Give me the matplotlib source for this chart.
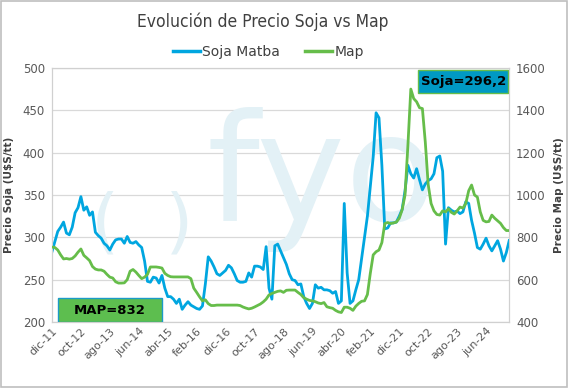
import matplotlib.pyplot as plt
from matplotlib.patches import Rectangle

# monthly prices, dic-11 .. feb-25
soja = [283, 295, 307, 312, 318, 305, 303, 312, 329, 335,
        348, 332, 336, 326, 330, 306, 302, 299, 293, 290,
        285, 292, 297, 298, 298, 293, 301, 294, 293, 295,
        291, 288, 272, 248, 247, 253, 252, 246, 255, 240,
        230, 230, 227, 222, 227, 215, 220, 224, 220, 218,
        216, 215, 219, 245, 277, 272, 265, 257, 255, 258,
        261, 267, 264, 257, 249, 247, 247, 248, 258, 253,
        266, 266, 265, 262, 289, 240, 227, 290, 292, 284,
        276, 268, 257, 250, 249, 244, 245, 230, 222, 216,
        222, 244, 240, 241, 238, 238, 237, 234, 236, 222,
        225, 340, 258, 222, 225, 238, 250, 275, 300, 325,
        360, 395, 447, 441, 385, 310, 311, 317, 317, 318,
        325, 333, 355, 385, 375, 370, 381, 368, 356, 363,
        367, 369, 375, 394, 396, 378, 292, 335, 332, 330,
        331, 328, 330, 342, 340, 320, 305, 288, 286, 292,
        299, 290, 284, 290, 296, 286, 272, 282, 296.2]

map_ = [754, 752, 740, 717, 698, 700, 697, 700, 712, 730,
        745, 715, 703, 690, 662, 650, 646, 646, 640, 625,
        612, 608, 590, 584, 584, 585, 600, 640, 648, 636,
        620, 605, 612, 625, 660, 660, 660, 658, 655, 630,
        620, 614, 613, 613, 613, 613, 613, 613, 605, 560,
        540, 519, 500, 505, 487, 478, 478, 480, 480, 480,
        480, 480, 480, 480, 480, 478, 471, 466, 462, 465,
        471, 478, 485, 495, 508, 528, 535, 540, 545, 547,
        540, 550, 551, 551, 551, 540, 530, 515, 508, 502,
        500, 496, 490, 487, 492, 472, 468, 465, 455, 448,
        445, 470, 470, 465, 455, 475, 488, 498, 500, 530,
        630, 717, 732, 740, 775, 865, 870, 865, 868, 872,
        890, 930, 1000, 1236, 1500, 1455, 1440, 1412, 1408, 1250,
        1050, 960, 925, 908, 905, 925, 920, 935, 918, 910,
        925, 943, 938, 960, 1020, 1047, 1000, 990, 920, 880,
        873, 875, 905, 890, 878, 866, 846, 832, 832]

tick_labels = ["dic-11", "oct-12", "ago-13", "jun-14", "abr-15", "feb-16",
               "dic-16", "oct-17", "ago-18", "jun-19", "abr-20", "feb-21",
               "dic-21", "oct-22", "ago-23", "jun-24"]

blue = "#00A6E0"
green = "#66BD4A"
grey_txt = "#595959"

fig = plt.figure(figsize=(5.68, 3.88), dpi=100)
fig.patches.append(Rectangle((0.002, 0.003), 0.996, 0.994, transform=fig.transFigure,
                             fill=False, edgecolor="#BFBFBF", linewidth=1.2))
ax = fig.add_axes([0.0915, 0.170, 0.805, 0.655])
ax2 = ax.twinx()

x = list(range(len(soja)))
ax.plot(x, soja, color=blue, linewidth=2.0, zorder=3)
ax2.plot(x, map_, color=green, linewidth=2.0, zorder=3)

ax.set_xlim(0, len(soja) - 1)
ax.set_ylim(200, 500)
ax2.set_ylim(400, 1600)
ax.set_yticks(range(200, 501, 50))
ax2.set_yticks(range(400, 1601, 200))
ax.set_xticks(range(0, 10 * len(tick_labels), 10))
ax.set_xticklabels(tick_labels, rotation=45, ha="right", rotation_mode="anchor")
ax.grid(axis="y", color="#D9D9D9", linewidth=0.9)
ax.set_axisbelow(True)

for a in (ax, ax2):
    a.tick_params(length=0, labelsize=8.5, labelcolor=grey_txt, pad=5)
    for s in a.spines.values():
        s.set_color("#D0D0D0")
ax.tick_params(axis="x", labelsize=8, pad=3)

ax.set_ylabel("Precio Soja (U$S/tt)", fontsize=7.5, fontweight="bold", color="#404040", labelpad=6)
ax2.set_ylabel("Precio Map (U$S/tt)", fontsize=7.5, fontweight="bold", color="#404040", labelpad=6)

# watermark
ax.text(0.197, 0.38, "(  )", transform=ax.transAxes, fontsize=52, color="#E3F1F6",
        ha="center", va="center", zorder=1)
ax.text(0.59, 0.56, "fyo", transform=ax.transAxes, fontsize=108, color="#E3F1F6",
        ha="center", va="center", zorder=1)

# value boxes
ax2.add_patch(Rectangle((0.013, 0.0), 0.228, 0.094, transform=ax.transAxes,
                        facecolor="#5DBE4F", edgecolor="#1B9BC8", linewidth=1.0, zorder=5))
ax2.text(0.127, 0.047, "MAP=832", transform=ax.transAxes, fontsize=9.5, fontweight="bold",
         ha="center", va="center", zorder=6)
ax2.add_patch(Rectangle((0.801, 0.90), 0.197, 0.092, transform=ax.transAxes,
                        facecolor="#0099C4", edgecolor="#66BD4A", linewidth=1.0, zorder=5))
ax2.text(0.90, 0.946, "Soja=296,2", transform=ax.transAxes, fontsize=9.5, fontweight="bold",
         ha="center", va="center", zorder=6)

fig.text(0.462, 0.943, "Evolución de Precio Soja vs Map", fontsize=12.5, color="#404040",
         ha="center", va="center", family="DejaVu Sans", fontstretch="condensed")

h1, = ax.plot([], [], color=blue, linewidth=2.5, label="Soja Matba")
h2, = ax.plot([], [], color=green, linewidth=2.5, label="Map")
fig.legend(handles=[h1, h2], loc="center", bbox_to_anchor=(0.473, 0.866), ncol=2,
           frameon=False, fontsize=10, handlelength=1.9, handletextpad=0.2,
           columnspacing=1.8, labelcolor="#404040")

fig.savefig("out.png", dpi=100)
